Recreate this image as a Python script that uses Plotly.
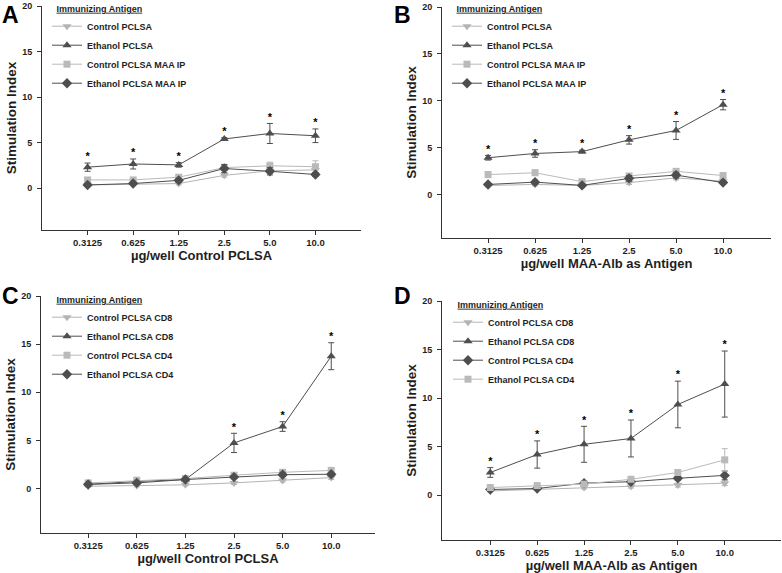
import plotly.graph_objects as go

# ---------------- data ----------------
doses = ["0.3125", "0.625", "1.25", "2.5", "5.0", "10.0"]
y_ticks = [0, 5, 10, 15, 20]

# Panel A : antigen = Control PCLSA
a_ctrl = [0.35, 0.45, 0.5, 1.4, 1.9, 2.0]
a_ctrl_err = [0.1, 0.1, 0.15, 0.2, 0.3, 0.3]
a_eth = [2.3, 2.65, 2.55, 5.4, 6.0, 5.75]
a_eth_err = [0.45, 0.55, 0.25, 0.15, 1.1, 0.75]
a_ctrl_maa = [0.9, 0.9, 1.2, 2.25, 2.45, 2.35]
a_ctrl_maa_err = [0.15, 0.15, 0.2, 0.3, 0.4, 0.65]
a_eth_maa = [0.35, 0.5, 0.85, 2.15, 1.85, 1.5]
a_eth_maa_err = [0.1, 0.1, 0.2, 0.45, 0.4, 0.2]
a_sig = [True, True, True, True, True, True]

# Panel B : antigen = MAA-Alb
b_ctrl = [1.0, 1.1, 1.0, 1.3, 1.8, 1.45]
b_ctrl_err = [0.15, 0.15, 0.1, 0.2, 0.2, 0.2]
b_eth = [3.95, 4.4, 4.6, 5.85, 6.85, 9.6]
b_eth_err = [0.25, 0.4, 0.15, 0.45, 0.95, 0.55]
b_ctrl_maa = [2.15, 2.35, 1.4, 2.0, 2.5, 2.05]
b_ctrl_maa_err = [0.3, 0.3, 0.15, 0.25, 0.25, 0.3]
b_eth_maa = [1.1, 1.35, 1.0, 1.75, 2.1, 1.3]
b_eth_maa_err = [0.15, 0.2, 0.15, 0.3, 0.3, 0.2]
b_sig = [True, True, True, True, True, True]

# Panel C : antigen = Control PCLSA, T-cell subsets
c_ctrl_cd8 = [0.25, 0.3, 0.4, 0.6, 0.85, 1.15]
c_ctrl_cd8_err = [0.1, 0.1, 0.1, 0.15, 0.15, 0.2]
c_eth_cd8 = [0.45, 0.75, 0.95, 4.75, 6.45, 13.75]
c_eth_cd8_err = [0.15, 0.2, 0.2, 1.0, 0.5, 1.4]
c_ctrl_cd4 = [0.6, 0.85, 1.05, 1.4, 1.7, 1.9]
c_ctrl_cd4_err = [0.15, 0.35, 0.2, 0.2, 0.2, 0.2]
c_eth_cd4 = [0.45, 0.6, 0.95, 1.2, 1.45, 1.5]
c_eth_cd4_err = [0.1, 0.15, 0.15, 0.15, 0.2, 0.15]
c_sig = [False, False, False, True, True, True]

# Panel D : antigen = MAA-Alb, T-cell subsets
d_ctrl_cd8 = [0.45, 0.6, 0.8, 0.9, 1.05, 1.25]
d_ctrl_cd8_err = [0.1, 0.1, 0.15, 0.15, 0.2, 0.25]
d_eth_cd8 = [2.35, 4.2, 5.25, 5.85, 9.35, 11.45]
d_eth_cd8_err = [0.5, 1.4, 1.85, 1.9, 2.4, 3.4]
d_ctrl_cd4 = [0.6, 0.7, 1.25, 1.4, 1.75, 2.05]
d_ctrl_cd4_err = [0.1, 0.1, 0.2, 0.2, 0.2, 0.45]
d_eth_cd4 = [0.8, 1.0, 1.15, 1.65, 2.35, 3.65]
d_eth_cd4_err = [0.1, 0.15, 0.15, 0.2, 0.25, 1.15]
d_sig = [True, True, True, True, True, True]

# ---------------- styling ----------------
FONT = "Liberation Sans, Arial, sans-serif"
INK = "#1e1e1e"
LIGHT = "#b4b4b4"
DARK = "#4e4e4e"
STYLES = {
    "down": dict(symbol="triangle-down", color=LIGHT, size=8),
    "up": dict(symbol="triangle-up", color=DARK, size=8),
    "square": dict(symbol="square", color="#bababa", size=7),
    "diamond": dict(symbol="diamond", color=DARK, size=8),
}

W, H = 782, 573


def px_x(p):
    return p / W


def px_y(p):
    return 1 - p / H


panels = [
    dict(letter="A", ax="", legend="legend",
         xdom=(42, 361), ydom=(6, 230), xrange=[-1.0, 6.0],
         xtitle="µg/well Control PCLSA", leg=(47, 0), let=(0, 0),
         series=[("Control PCLSA", a_ctrl, a_ctrl_err, "down"),
                 ("Ethanol PCLSA", a_eth, a_eth_err, "up"),
                 ("Control PCLSA MAA IP", a_ctrl_maa, a_ctrl_maa_err, "square"),
                 ("Ethanol PCLSA MAA IP", a_eth_maa, a_eth_maa_err, "diamond")],
         star=(a_eth, a_eth_err, a_sig)),
    dict(letter="B", ax="2", legend="legend2",
         xdom=(442, 771), ydom=(7, 238), xrange=[-0.98, 6.02],
         xtitle="µg/well MAA-Alb as Antigen", leg=(447, 0), let=(392, 0),
         series=[("Control PCLSA", b_ctrl, b_ctrl_err, "down"),
                 ("Ethanol PCLSA", b_eth, b_eth_err, "up"),
                 ("Control PCLSA MAA IP", b_ctrl_maa, b_ctrl_maa_err, "square"),
                 ("Ethanol PCLSA MAA IP", b_eth_maa, b_eth_maa_err, "diamond")],
         star=(b_eth, b_eth_err, b_sig)),
    dict(letter="C", ax="3", legend="legend3",
         xdom=(41, 375), ydom=(296, 533), xrange=[-0.97, 5.9],
         xtitle="µg/well Control PCLSA", leg=(47, 291), let=(0, 281),
         series=[("Control PCLSA CD8", c_ctrl_cd8, c_ctrl_cd8_err, "down"),
                 ("Ethanol PCLSA CD8", c_eth_cd8, c_eth_cd8_err, "up"),
                 ("Control PCLSA CD4", c_ctrl_cd4, c_ctrl_cd4_err, "square"),
                 ("Ethanol PCLSA CD4", c_eth_cd4, c_eth_cd4_err, "diamond")],
         star=(c_eth_cd8, c_eth_cd8_err, c_sig)),
    dict(letter="D", ax="4", legend="legend4",
         xdom=(442, 781), ydom=(301, 540), xrange=[-1.03, 6.2],
         xtitle="µg/well MAA-Alb as Antigen", leg=(448, 296), let=(392, 281),
         series=[("Control PCLSA CD8", d_ctrl_cd8, d_ctrl_cd8_err, "down"),
                 ("Ethanol PCLSA CD8", d_eth_cd8, d_eth_cd8_err, "up"),
                 ("Control PCLSA CD4", d_ctrl_cd4, d_ctrl_cd4_err, "diamond"),
                 ("Ethanol PCLSA CD4", d_eth_cd4, d_eth_cd4_err, "square")],
         star=(d_eth_cd8, d_eth_cd8_err, d_sig)),
]

fig = go.Figure()
layout = dict(
    template="none",
    width=W, height=H,
    margin=dict(l=0, r=0, t=0, b=0, autoexpand=False),
    paper_bgcolor="white", plot_bgcolor="white",
    font=dict(family=FONT, color=INK),
    annotations=[],
)

for p in panels:
    xa = "x" + p["ax"]
    ya = "y" + p["ax"]
    for name, vals, errs, sty in p["series"]:
        s = STYLES[sty]
        fig.add_trace(go.Scatter(
            x=doses, y=vals, name=name, mode="lines+markers",
            xaxis=xa, yaxis=ya, legend=p["legend"],
            line=dict(color=s["color"], width=1),
            marker=dict(symbol=s["symbol"], color=s["color"], size=s["size"]),
            error_y=dict(type="data", array=errs, visible=True,
                         color=s["color"], thickness=1, width=3),
        ))
    vals, errs, sig = p["star"]
    fig.add_trace(go.Scatter(
        x=[d for d, k in zip(doses, sig) if k],
        y=[v + e for v, e, k in zip(vals, errs, sig) if k],
        mode="text", text=["*"] * sum(sig), textposition="top center",
        textfont=dict(size=11, family=FONT, color="#000", weight="bold"),
        xaxis=xa, yaxis=ya, showlegend=False, hoverinfo="skip",
    ))

    xkey = "xaxis" + p["ax"]
    ykey = "yaxis" + p["ax"]
    layout[xkey] = dict(
        domain=[px_x(p["xdom"][0]), px_x(p["xdom"][1])], automargin=False,
        anchor=ya, type="category", categoryorder="array", categoryarray=doses,
        range=p["xrange"], showline=True, linecolor="#333", linewidth=1,
        ticks="outside", ticklen=4, tickcolor="#333", showgrid=False, zeroline=False,
        tickfont=dict(size=9.5, family=FONT, color=INK, weight="bold"),
        title=dict(text=p["xtitle"], standoff=3,
                   font=dict(size=13, family=FONT, color=INK, weight="bold")),
    )
    layout[ykey] = dict(
        domain=[px_y(p["ydom"][1]), px_y(p["ydom"][0])], automargin=False,
        anchor=xa, range=[-4.6, 20], tickmode="array", tickvals=y_ticks,
        showline=True, linecolor="#333", linewidth=1,
        ticks="outside", ticklen=4, tickcolor="#333", showgrid=False, zeroline=False,
        ticklabelstandoff=3,
        tickfont=dict(size=9, family=FONT, color=INK, weight="bold"),
        title=dict(text="Stimulation Index", standoff=2,
                   font=dict(size=13.5, family=FONT, color=INK, weight="bold")),
    )
    layout[p["legend"]] = dict(
        x=px_x(p["leg"][0]), y=px_y(p["leg"][1]), xanchor="left", yanchor="top",
        bgcolor="rgba(0,0,0,0)", borderwidth=0, tracegroupgap=0,
        font=dict(size=9, family=FONT, color=INK, weight="bold"),
        title=dict(text="&nbsp;&nbsp;&nbsp;<u>Immunizing Antigen</u>",
                   font=dict(size=9, family=FONT, color=INK, weight="bold")),
    )
    layout["annotations"].append(dict(
        text=p["letter"], xref="paper", yref="paper",
        x=px_x(p["let"][0]), y=px_y(p["let"][1]), xanchor="left", yanchor="top",
        showarrow=False, font=dict(size=23, family=FONT, color="#000", weight="bold"),
    ))

fig.update_layout(**layout)
fig.write_html("out.html",
               config={"displayModeBar": False},
               post_script="document.body.style.margin='0';document.body.style.overflow='hidden';")
